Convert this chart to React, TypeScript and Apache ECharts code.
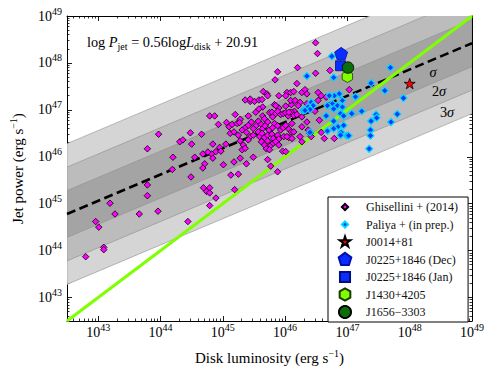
import React, { useEffect, useRef } from "react";
import * as echarts from "echarts";

const FONT = "Liberation Serif, DejaVu Serif, serif";

// log10 ranges of the axes
const X_RANGE = [42.5, 49];
const Y_RANGE = [42.5, 49];
const DECADE_TICKS = [43, 44, 45, 46, 47, 48, 49];

// drawn fit line (as placed in the figure) and sigma bands
const FIT_SLOPE = 0.56;
const FIT_INTERCEPT = 20.98;
const SIGMA = 0.5;
const BAND_MULTIPLES = [3, 2, 1];
const BAND_FILLS = ["#d5d5d5", "#bcbcbc", "#a4a4a4"];
const ONE_TO_ONE = [[42.5, 42.5], [49, 49]];

// [log Ldisk, log Pjet]
const ghisellini: number[][] = [
  [42.80, 43.87], [42.96, 44.62], [43.01, 44.50], [43.09, 44.07], [43.09, 44.02], [43.19, 45.01], [43.27, 44.78],
  [43.66, 44.78], [43.79, 45.40], [43.79, 45.17], [43.96, 44.84], [44.44, 44.62], [44.49, 45.57], [44.19, 45.73],
  [44.20, 45.99], [43.79, 46.17], [43.97, 46.48], [44.31, 46.32], [44.36, 46.36], [44.48, 46.51], [44.50, 46.27],
  [44.69, 45.34], [44.74, 45.26], [44.79, 45.34], [44.79, 45.23], [44.89, 45.12], [44.79, 44.96], [45.19, 45.30],
  [44.66, 46.48], [44.79, 46.87], [44.87, 46.87], [44.93, 46.69], [44.68, 46.06], [44.71, 45.85], [44.82, 46.06],
  [44.84, 45.97], [44.89, 46.11], [45.01, 45.83], [44.95, 46.20],
  [45.36, 47.21], [45.44, 47.18], [45.51, 47.18], [45.58, 47.21], [45.64, 47.06], [45.83, 47.11], [45.90, 47.04],
  [46.01, 47.08], [46.10, 47.11], [46.15, 46.97], [45.20, 46.90], [45.28, 46.80], [45.41, 46.87], [45.53, 46.95],
  [45.58, 47.02], [45.64, 46.87], [45.67, 46.81], [45.72, 46.74], [45.75, 46.94], [45.79, 46.95], [45.80, 46.85],
  [45.85, 46.92], [45.88, 46.97], [45.93, 46.90], [45.97, 46.92], [46.01, 46.94], [46.10, 46.95], [46.14, 46.88],
  [45.06, 46.73], [45.10, 46.64], [45.15, 46.69], [45.23, 46.71], [45.27, 46.73], [45.36, 46.62], [45.41, 46.67],
  [45.46, 46.74], [45.49, 46.60], [45.54, 46.67], [45.57, 46.76], [45.62, 46.69], [45.64, 46.60], [45.68, 46.66],
  [45.74, 46.57], [45.80, 46.62], [45.83, 46.71], [45.88, 46.66], [45.93, 46.57], [45.97, 46.62], [46.01, 46.67],
  [46.06, 46.59], [46.10, 46.53], [46.11, 46.71], [45.12, 46.50], [45.18, 46.53], [45.25, 46.46], [45.31, 46.57],
  [45.38, 46.52], [45.44, 46.43], [45.49, 46.46], [45.57, 46.53], [45.59, 46.43], [45.63, 46.50], [45.67, 46.41],
  [45.72, 46.46], [45.79, 46.48], [45.81, 46.39], [45.88, 46.46], [45.90, 46.38], [45.98, 46.43], [46.06, 46.41],
  [44.84, 46.27], [45.05, 46.27], [45.28, 46.34], [45.33, 46.25], [45.41, 46.36], [45.62, 46.32], [45.67, 46.25],
  [45.72, 46.34], [45.77, 46.24], [45.81, 46.29], [45.85, 46.32], [45.90, 46.25], [44.76, 46.10], [44.97, 46.12],
  [45.31, 46.15], [45.36, 46.18], [45.70, 46.17], [45.75, 46.15], [45.96, 46.12], [46.01, 46.11], [44.55, 45.99],
  [45.28, 45.97], [45.49, 45.99], [45.72, 45.94], [44.68, 45.76], [45.18, 45.89], [45.38, 45.85], [45.77, 45.80],
  [45.88, 45.68], [45.13, 45.61], [45.25, 45.63],
  [45.88, 47.81], [45.84, 47.64], [45.65, 47.39], [45.71, 47.34], [45.63, 47.22], [46.03, 47.37], [46.09, 47.37],
  [46.14, 47.39], [46.01, 47.30],
  [46.49, 48.43], [46.52, 48.20], [46.20, 47.90], [46.49, 47.78], [46.72, 47.84], [46.19, 47.56], [46.27, 47.37],
  [46.32, 47.43], [46.35, 47.34], [46.53, 47.37], [46.58, 47.30], [46.66, 47.27], [47.03, 47.43], [46.09, 47.20],
  [46.16, 47.20], [46.24, 47.16], [46.53, 47.20], [46.37, 46.99], [46.48, 46.97], [46.05, 46.87], [46.19, 46.90],
  [46.27, 46.85], [46.35, 46.74], [46.55, 46.78], [46.14, 46.53], [46.03, 46.43], [46.11, 46.39], [46.27, 46.32],
  [46.42, 46.43], [46.58, 46.52], [46.63, 46.39], [46.79, 46.39], [46.24, 46.43], [46.40, 46.50], [45.44, 47.23],
  [45.72, 47.30], [45.90, 47.30], [46.06, 46.95], [45.85, 47.09], [46.21, 47.09], [46.35, 47.13], [46.27, 46.64],
  [46.37, 46.57],
];

const paliya: number[][] = [
  [46.75, 48.14], [46.35, 47.72], [46.78, 47.69], [47.69, 47.90], [47.38, 47.57], [47.60, 47.41], [47.90, 47.25],
  [47.13, 47.28], [46.87, 47.34], [46.79, 47.30], [46.71, 47.30], [46.92, 47.20], [46.76, 47.13], [46.84, 47.09],
  [46.68, 47.09], [46.78, 47.02], [46.92, 47.06], [46.42, 47.16], [46.45, 47.09], [46.37, 47.06], [46.29, 46.99],
  [46.40, 47.01], [46.66, 46.87], [46.89, 46.92], [47.23, 46.97], [47.46, 46.90], [47.80, 46.91], [47.07, 46.92],
  [46.78, 46.76], [46.94, 46.87], [46.85, 46.64], [46.78, 46.60], [46.68, 46.55], [46.90, 46.52], [46.99, 46.45],
  [46.94, 46.67], [46.40, 46.52], [47.38, 46.76], [47.47, 46.83], [47.70, 46.74], [47.37, 46.57], [47.37, 46.45],
  [47.35, 46.17], [47.02, 46.45], [46.32, 46.99], [46.89, 46.46],
];

const j0014 = [[48.0, 47.56]];
const j0225Dec = [[46.90, 48.20]];
const j0225Jan = [[46.89, 47.94]];
const j1430 = [[47.0, 47.71]];
const j1656 = [[47.01, 47.90]];

const SERIES_NAMES = [
  "Ghisellini + (2014)",
  "Paliya + (in prep.)",
  "J0014+81",
  "J0225+1846 (Dec)",
  "J0225+1846 (Jan)",
  "J1430+4205",
  "J1656\u22123303",
];

const STAR = [[50, 0], [61.2, 34.5], [97.6, 34.5], [68.2, 55.9], [79.4, 90.5], [50, 69.1], [20.6, 90.5], [31.8, 55.9], [2.4, 34.5], [38.8, 34.5]];
const PENTAGON = [[50, 0], [97.6, 34.5], [79.4, 90.5], [20.6, 90.5], [2.4, 34.5]];
const HEXAGON = [[50, 0], [93.3, 25], [93.3, 75], [50, 100], [6.7, 75], [6.7, 25]];
const DIAMOND = [[50, 0], [100, 50], [50, 100], [0, 50]];
const SQUARE = [[0, 0], [100, 0], [100, 100], [0, 100]];
const CIRCLE = Array.from({ length: 36 }, (_, i) => [50 + 50 * Math.cos((i * Math.PI) / 18), 50 + 50 * Math.sin((i * Math.PI) / 18)]);

function shapePath(pts: number[][]) {
  return "path://M" + pts.map((p) => p[0].toFixed(1) + " " + p[1].toFixed(1)).join(" L") + " Z";
}
function legendIcon(pts: number[][], s: number) {
  const q = pts.map((p) => [50 + (p[0] - 50) * s, 50 + (p[1] - 50) * s]);
  return "path://M0 0 M100 100 M" + q.map((p) => p[0].toFixed(1) + " " + p[1].toFixed(1)).join(" L") + " Z";
}

const minorTicks: number[] = [];
for (let d = 42; d < 49; d++) {
  for (let k = 2; k <= 9; k++) {
    const v = d + Math.log10(k);
    if (v > X_RANGE[0] && v < X_RANGE[1]) minorTicks.push(v);
  }
}

const fit = (x: number) => FIT_SLOPE * x + FIT_INTERCEPT;

const labelRich = {
  b: { fontSize: 14, fontFamily: FONT, lineHeight: 20, color: "#000" },
  s: { fontSize: 10, fontFamily: FONT, lineHeight: 11, verticalAlign: "top", color: "#000" },
};
const nameRich = {
  n: { fontSize: 15, fontFamily: FONT, lineHeight: 19, color: "#000" },
  s: { fontSize: 10, fontFamily: FONT, lineHeight: 10, verticalAlign: "top", color: "#000" },
};

function axisSet(kind: "x" | "y") {
  const range = kind === "x" ? X_RANGE : Y_RANGE;
  const sides = kind === "x" ? ["bottom", "top"] : ["left", "right"];
  const axes: any[] = [];
  sides.forEach((pos, si) => {
    const main: any = {
      type: "value",
      min: range[0],
      max: range[1],
      position: pos,
      axisLine: { show: true, onZero: false, lineStyle: { color: "#000", width: 1 } },
      axisTick: { show: true, inside: true, length: 5, customValues: DECADE_TICKS, lineStyle: { color: "#000", width: 0.9 } },
      axisLabel:
        si === 0
          ? {
              show: true,
              customValues: DECADE_TICKS,
              formatter: (v: number) => `{b|10}{s|${Math.round(v)}}`,
              rich: labelRich,
              margin: kind === "x" ? 1 : 5,
            }
          : { show: false },
      splitLine: { show: false },
    };
    if (si === 0) {
      main.name = kind === "x" ? "{n|Disk luminosity (erg s}{s|\u22121}{n|)}" : "{n|Jet power (erg s}{s|\u22121}{n|)}";
      main.nameLocation = "middle";
      main.nameGap = kind === "x" ? 27 : 40;
      main.nameTextStyle = { rich: nameRich };
      if (kind === "y") main.nameRotate = 90;
    }
    axes.push(main);
    axes.push({
      type: "value",
      min: range[0],
      max: range[1],
      position: pos,
      axisLine: { show: false, onZero: false },
      axisTick: { show: true, inside: true, length: 2.5, customValues: minorTicks, lineStyle: { color: "#000", width: 0.8 } },
      axisLabel: { show: false },
      splitLine: { show: false },
    });
  });
  return axes;
}

const textRich = {
  n: { fontSize: 14.3, fontFamily: FONT, lineHeight: 18, fill: "#000" },
  i: { fontSize: 14.3, fontFamily: FONT, fontStyle: "italic", lineHeight: 18, fill: "#000" },
  sb: { fontSize: 10, fontFamily: FONT, lineHeight: 10, verticalAlign: "bottom", fill: "#000" },
};

export default function App() {
  const ref = useRef<HTMLDivElement>(null);
  useEffect(() => {
    if (!ref.current) return;
    const chart = echarts.init(ref.current, undefined, { renderer: "svg" });
    const scatterBase = { type: "scatter", xAxisIndex: 0, yAxisIndex: 0, z: 5 };
    chart.setOption({
      animation: false,
      backgroundColor: "#fff",
      textStyle: { fontFamily: FONT },
      grid: { left: 55, right: 19, top: 16, bottom: 45, containLabel: false },
      xAxis: axisSet("x"),
      yAxis: axisSet("y"),
      legend: {
        orient: "vertical",
        left: 328,
        top: 197,
        padding: [2, 10, 2, 9],
        itemWidth: 14,
        itemHeight: 14,
        itemGap: 1.5,
        backgroundColor: "#fff",
        borderColor: "#000",
        borderWidth: 1,
        borderRadius: 0,
        selectedMode: false,
        textStyle: { fontFamily: FONT, fontSize: 12, color: "#111", lineHeight: 14, padding: [0, 0, 0, 9] },
        data: [
          { name: SERIES_NAMES[0], icon: legendIcon(DIAMOND, 0.45) },
          { name: SERIES_NAMES[1], icon: legendIcon(DIAMOND, 0.45) },
          { name: SERIES_NAMES[2], icon: legendIcon(STAR, 0.8) },
          { name: SERIES_NAMES[3], icon: legendIcon(PENTAGON, 0.95) },
          { name: SERIES_NAMES[4], icon: legendIcon(SQUARE, 0.72) },
          { name: SERIES_NAMES[5], icon: legendIcon(HEXAGON, 0.88) },
          { name: SERIES_NAMES[6], icon: legendIcon(CIRCLE, 0.86) },
        ],
      },
      graphic: [
        {
          type: "text",
          left: 87,
          top: 35,
          z: 100,
          style: {
            text: "{n|log }{i|P}{sb|jet}{n| = 0.56log}{i|L}{sb|disk}{n| + 20.91}",
            rich: textRich,
            fill: "#000",
          },
        },
        {
          type: "text",
          x: 433,
          y: 72,
          z: 100,
          style: { text: "{i|\u03c3}", rich: textRich, align: "center", verticalAlign: "middle" },
        },
        {
          type: "text",
          x: 439,
          y: 91,
          z: 100,
          style: { text: "{n|2}{i|\u03c3}", rich: textRich, align: "center", verticalAlign: "middle" },
        },
        {
          type: "text",
          x: 447,
          y: 112,
          z: 100,
          style: { text: "{n|3}{i|\u03c3}", rich: textRich, align: "center", verticalAlign: "middle" },
        },
      ],
      series: [
        {
          type: "custom",
          xAxisIndex: 0,
          yAxisIndex: 0,
          clip: true,
          silent: true,
          z: 1,
          data: BAND_MULTIPLES.map((k, i) => [X_RANGE[0], X_RANGE[1], k, i]),
          renderItem: (params: any, api: any) => {
            const x0 = api.value(0);
            const x1 = api.value(1);
            const k = api.value(2);
            const ci = api.value(3);
            const pts = [
              api.coord([x0, fit(x0) - k * SIGMA]),
              api.coord([x1, fit(x1) - k * SIGMA]),
              api.coord([x1, fit(x1) + k * SIGMA]),
              api.coord([x0, fit(x0) + k * SIGMA]),
            ];
            const cs = params.coordSys;
            return {
              type: "polygon",
              shape: { points: pts },
              style: { fill: BAND_FILLS[ci], stroke: "#8f8f8f", lineWidth: 0.6 },
              clipPath: { type: "rect", shape: { x: cs.x, y: cs.y, width: cs.width, height: cs.height } },
            };
          },
        },
        {
          type: "line",
          xAxisIndex: 0,
          yAxisIndex: 0,
          z: 3,
          symbol: "none",
          silent: true,
          data: [
            [X_RANGE[0], fit(X_RANGE[0])],
            [X_RANGE[1], fit(X_RANGE[1])],
          ],
          lineStyle: { color: "#000", width: 2.6, type: [9, 4.5] },
        },
        {
          type: "line",
          xAxisIndex: 0,
          yAxisIndex: 0,
          z: 3,
          symbol: "none",
          silent: true,
          data: ONE_TO_ONE,
          lineStyle: { color: "#7fff00", width: 3 },
        },
        {
          ...scatterBase,
          name: SERIES_NAMES[0],
          data: ghisellini,
          symbol: "diamond",
          symbolSize: 6.5,
          itemStyle: { color: "#ff00ff", borderColor: "#000", borderWidth: 0.8, opacity: 1 },
        },
        {
          ...scatterBase,
          name: SERIES_NAMES[1],
          data: paliya,
          symbol: "diamond",
          symbolSize: 7,
          itemStyle: { color: "#0a3cff", borderColor: "#00d8ff", borderWidth: 1.2, opacity: 1 },
        },
        {
          ...scatterBase,
          name: SERIES_NAMES[2],
          data: j0014,
          symbol: shapePath(STAR),
          symbolKeepAspect: true,
          symbolSize: 11,
          itemStyle: { color: "#ff0000", borderColor: "#000", borderWidth: 0.8, opacity: 1 },
        },
        {
          ...scatterBase,
          name: SERIES_NAMES[3],
          data: j0225Dec,
          symbol: shapePath(PENTAGON),
          symbolKeepAspect: true,
          symbolSize: 13,
          itemStyle: { color: "#0a2cff", borderColor: "#0010b0", borderWidth: 0.8, opacity: 1 },
        },
        {
          ...scatterBase,
          name: SERIES_NAMES[4],
          data: j0225Jan,
          symbol: "rect",
          symbolSize: 10,
          itemStyle: { color: "#0a2cff", borderColor: "#00107a", borderWidth: 0.8, opacity: 1 },
        },
        {
          ...scatterBase,
          name: SERIES_NAMES[5],
          data: j1430,
          symbol: shapePath(HEXAGON),
          symbolKeepAspect: true,
          symbolSize: 12,
          itemStyle: { color: "#7fff00", borderColor: "#1e3a00", borderWidth: 0.8, opacity: 1 },
        },
        {
          ...scatterBase,
          name: SERIES_NAMES[6],
          data: j1656,
          symbol: "circle",
          symbolSize: 11.5,
          itemStyle: { color: "#0a6e0a", borderColor: "#000", borderWidth: 0.8, opacity: 1 },
        },
      ],
    });
    return () => chart.dispose();
  }, []);
  return <div ref={ref} style={{ position: "absolute", left: 0, top: 0, width: 491, height: 370 }} />;
}
